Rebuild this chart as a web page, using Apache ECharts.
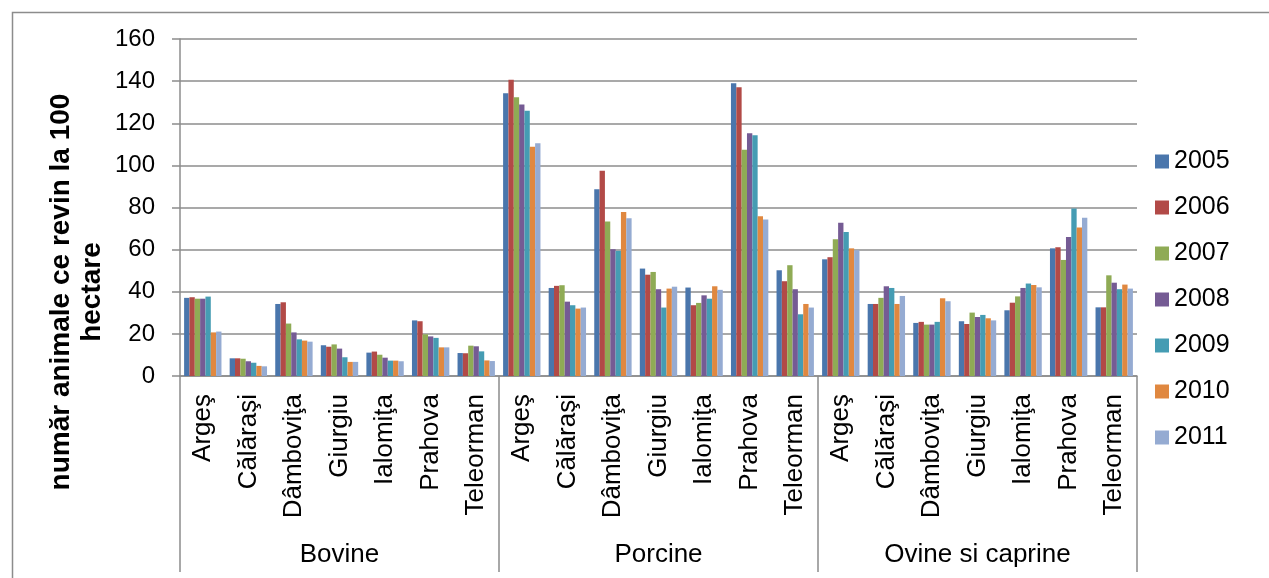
<!DOCTYPE html>
<html>
<head>
<meta charset="utf-8">
<script src="https://cdn.jsdelivr.net/npm/echarts@6/dist/echarts.min.js"></script>
<style>
  html, body { margin: 0; padding: 0; background: #fff; }
  #chart { width: 1269px; height: 578px; }
</style>
</head>
<body>
<div id="chart"></div>
<script>
// numar animale la 100 ha, pe judete si ani
const groups = ['Bovine', 'Porcine', 'Ovine si caprine'];
const counties = ['Argeş', 'Călăraşi', 'Dâmboviţa', 'Giurgiu', 'Ialomiţa', 'Prahova', 'Teleorman'];
const years = ['2005', '2006', '2007', '2008', '2009', '2010', '2011'];

// ordinea: Bovine (7 judete), Porcine (7), Ovine si caprine (7)
const v2005 = [37.1, 8.4, 34.2, 14.6, 11.1, 26.4, 10.9,  134.3, 41.8, 88.7, 51.0, 42.0, 139.0, 50.2,  55.4, 34.2, 25.2, 26.0, 31.2, 60.6, 32.6];
const v2006 = [37.4, 8.4, 35.0, 13.9, 11.6, 26.0, 10.8,  140.6, 42.8, 97.4, 48.1, 33.6, 137.1, 45.0,  56.4, 34.2, 25.7, 24.7, 34.8, 61.1, 32.6];
const v2007 = [36.7, 8.2, 24.9, 15.0, 10.1, 19.8, 14.4,  132.4, 43.1, 73.3, 49.4, 34.7, 107.4, 52.6,  64.9, 37.1, 24.4, 30.1, 37.8, 55.1, 47.8];
const v2008 = [36.7, 7.0, 20.7, 13.0, 8.7, 18.8, 14.1,   128.9, 35.3, 60.2, 41.2, 38.3, 115.3, 41.2,  72.8, 42.6, 24.4, 28.0, 41.8, 66.0, 44.3];
const v2009 = [37.7, 6.3, 17.4, 8.9, 7.3, 18.1, 11.7,    125.9, 33.6, 59.4, 32.5, 36.7, 114.3, 29.3,  68.4, 41.8, 25.7, 29.0, 43.9, 79.5, 41.2];
const v2010 = [20.7, 4.8, 16.8, 6.7, 7.3, 13.6, 7.4,     108.8, 32.0, 77.9, 41.5, 42.6, 75.9, 34.2,   60.6, 34.2, 36.9, 27.4, 43.2, 70.5, 43.4];
const v2011 = [21.1, 4.6, 16.3, 6.7, 7.0, 13.6, 7.1,     110.5, 32.5, 74.9, 42.4, 40.9, 74.3, 32.5,   59.7, 38.0, 35.5, 26.4, 42.1, 75.1, 41.5];
const values = [v2005, v2006, v2007, v2008, v2009, v2010, v2011];

const colors = ['#4a76ac', '#b24a47', '#8fab55', '#755b94', '#459cb3', '#e08840', '#95abd2'];
const FONT = 'Liberation Sans';
const GRAY = '#8c8c8c';

const categories = [];
groups.forEach(() => counties.forEach(c => categories.push(c)));

const chart = echarts.init(document.getElementById('chart'));

chart.setOption({
    animation: false,
    color: colors,
    textStyle: { fontFamily: FONT, color: '#000' },
    grid: { left: 180, right: 132, top: 39, bottom: 202 },
    legend: {
        orient: 'vertical',
        left: 1150,
        top: 144,
        itemWidth: 14,
        itemHeight: 14,
        itemGap: 21,
        icon: 'rect',
        textStyle: { fontSize: 25, color: '#000', fontFamily: FONT },
        data: years
    },
    xAxis: [
        {
            type: 'category',
            data: categories,
            axisLine: { show: true, lineStyle: { color: GRAY, width: 1.5 } },
            axisTick: { show: false },
            axisLabel: {
                interval: 0,
                rotate: 90,
                margin: 18,
                fontSize: 26,
                color: '#000',
                fontFamily: FONT
            }
        },
        {
            type: 'category',
            data: groups,
            position: 'bottom',
            offset: 0,
            axisLine: { show: false },
            axisTick: {
                show: true,
                interval: 0,
                length: 196,
                lineStyle: { color: GRAY, width: 1.5 }
            },
            axisLabel: {
                interval: 0,
                margin: 166,
                fontSize: 26,
                color: '#000',
                fontFamily: FONT
            }
        }
    ],
    yAxis: {
        type: 'value',
        min: 0,
        max: 160,
        interval: 20,
        axisLine: { show: true, lineStyle: { color: GRAY, width: 1.5 } },
        axisTick: { show: true, length: 8, lineStyle: { color: GRAY, width: 1.5 } },
        splitLine: { lineStyle: { color: GRAY, width: 1.5 } },
        axisLabel: { fontSize: 24, margin: 25, color: '#000', fontFamily: FONT }
    },
    graphic: [
        {
            type: 'rect',
            left: 10,
            top: 10,
            shape: { width: 1262, height: 600 },
            style: { fill: 'none', stroke: GRAY, lineWidth: 1.5 },
            silent: true
        },
        {
            type: 'text',
            x: 77,
            y: 292,
            rotation: Math.PI / 2,
            style: {
                text: 'număr animale ce revin la 100\nhectare',
                font: 'bold 28px "Liberation Sans"',
                fill: '#000',
                align: 'center',
                verticalAlign: 'middle',
                lineHeight: 31
            }
        }
    ],
    series: years.map((y, i) => ({
        name: y,
        type: 'bar',
        xAxisIndex: 0,
        barGap: '0%',
        barCategoryGap: '18%',
        data: values[i]
    }))
});
</script>
</body>
</html>
